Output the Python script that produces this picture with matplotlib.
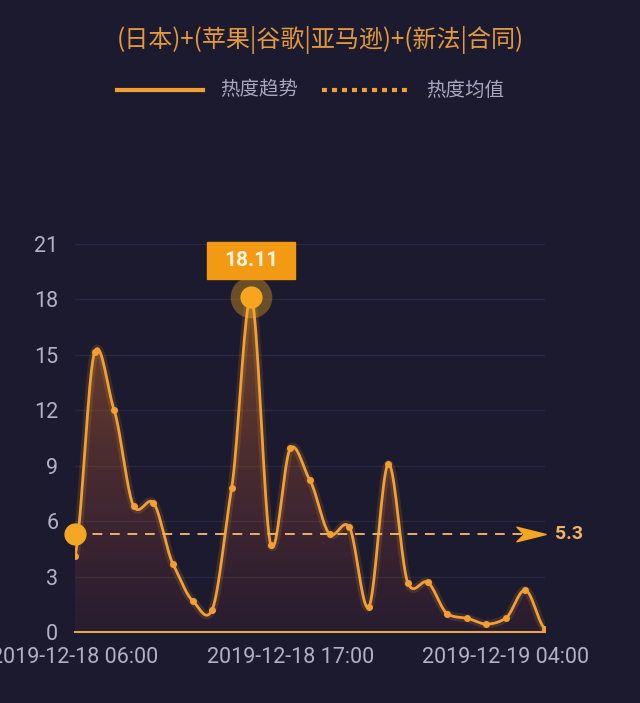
import numpy as np
import matplotlib.pyplot as plt
from matplotlib.lines import Line2D
from matplotlib.patches import Rectangle
from matplotlib.path import Path

plt.rcParams['font.family'] = ['Noto Sans CJK SC', 'DejaVu Sans']

# 数据: 2019-12-18 06:00 起, 每小时一个点
hours = ['2019-12-18 %02d:00' % h for h in range(6, 24)] + \
        ['2019-12-19 %02d:00' % h for h in range(0, 7)]
values = [4.1, 15.15, 12.0, 6.8, 7.0, 3.7, 1.7, 1.2, 7.8, 18.11, 4.7, 9.95, 8.2,
          5.3, 5.7, 1.35, 9.1, 2.65, 2.7, 1.0, 0.75, 0.43, 0.75, 2.27, 0.17]
tick_idx = [0, 11, 22]
title = '(日本)+(苹果|谷歌|亚马逊)+(新法|合同)'
legend_labels = ['热度趋势', '热度均值']

bg = '#1c1a2e'
orange = '#f2a033'
grey = '#b4b1c6'

x = np.arange(len(values))
y = np.array(values)
mean = round(y.mean(), 1)
peak = int(np.argmax(y))


def smooth(xs, ys, n=20):
    # Catmull-Rom 平滑曲线
    px = np.concatenate([[xs[0]], xs, [xs[-1]]])
    py = np.concatenate([[ys[0]], ys, [ys[-1]]])
    ox, oy = [], []
    t = np.linspace(0, 1, n, endpoint=False)
    for i in range(1, len(px) - 2):
        p0, p1, p2, p3 = py[i - 1], py[i], py[i + 1], py[i + 2]
        m1 = (p2 - p0) / 2 * 0.75
        m2 = (p3 - p1) / 2 * 0.75
        h00 = 2 * t**3 - 3 * t**2 + 1
        h10 = t**3 - 2 * t**2 + t
        h01 = -2 * t**3 + 3 * t**2
        h11 = t**3 - t**2
        oy.extend(h00 * p1 + h10 * m1 + h01 * p2 + h11 * m2)
        ox.extend(px[i] + t * (px[i + 1] - px[i]))
    ox.append(xs[-1])
    oy.append(ys[-1])
    return np.array(ox), np.array(oy)


sx, sy = smooth(x, y)

fig = plt.figure(figsize=(6.4, 7.03), dpi=100, facecolor=bg)
ax = fig.add_axes([75 / 640, 1 - 632 / 703, 470 / 640, 388 / 703], facecolor=bg)
ax.set_xlim(0, 24)
ax.set_ylim(0, 21)

# 渐变填充
poly = ax.fill_between(sx, sy, 0, color='none', lw=0)
frac = np.linspace(0, 1, 200)[:, None]
grad = np.zeros((200, 1, 4))
grad[..., 0] = 0.75 + 0.2 * frac
grad[..., 1] = 0.25 + 0.3 * frac
grad[..., 2] = 0.3 - 0.2 * frac
grad[..., 3] = 0.08 + 0.35 * frac
img = ax.imshow(grad, extent=[0, 24, 0, 19], origin='lower', aspect='auto', zorder=1)
img.set_clip_path(poly.get_paths()[0], transform=ax.transData)

# 网格
for v in range(3, 22, 3):
    ax.axhline(v, color='#29273d', lw=1, zorder=0)

ax.plot(sx, sy, color=orange, lw=6, alpha=0.15, zorder=2, solid_capstyle='round')
ax.plot(sx, sy, color=orange, lw=2, zorder=3)
ax.plot(x, y, 'o', color=orange, ms=4, zorder=4)

# 均值线
ax.plot([0, 23.0], [mean, mean], color='#e9b06c', lw=1.4, ls=(0, (5, 4)), zorder=3)
arrow = Path([(-1, 0.5), (1, 0), (-1, -0.5), (-0.5, 0), (-1, 0.5)],
             [Path.MOVETO, Path.LINETO, Path.LINETO, Path.LINETO, Path.CLOSEPOLY])
ax.plot([23.3], [mean], marker=arrow, ms=21, color='#f5a623', clip_on=False, zorder=4)
ax.plot([0], [mean], 'o', ms=15, color='#f5a623', clip_on=False, zorder=5)
ax.text(24.5, mean, str(mean), color='#f2b266', fontsize=14, fontweight='bold',
        family='Roboto', va='center', ha='left', clip_on=False)

# 峰值标记
ax.plot([peak], [y[peak]], 'o', ms=30, color='#f7b020', alpha=0.35, zorder=5, mec='none')
ax.plot([peak], [y[peak]], 'o', ms=16, color='#f7a51c', zorder=6, mec='none')
ax.add_patch(Rectangle((peak - 2.25, y[peak] + 1.0), 4.5, 2.0, color='#f39a14',
                       clip_on=False, zorder=6))
ax.text(peak, y[peak] + 2.0, '%.2f' % y[peak], color='#fff3dd', fontsize=15,
        fontweight='bold', family='Roboto', ha='center', va='center', zorder=7)

# 坐标轴
for s in ['top', 'right', 'left']:
    ax.spines[s].set_visible(False)
ax.spines['bottom'].set_color('#e4a44e')
ax.spines['bottom'].set_linewidth(1.5)
ax.set_yticks(range(0, 22, 3))
ax.set_xticks(tick_idx)
ax.set_xticklabels([hours[i] for i in tick_idx])
ax.tick_params(length=0, colors=grey, labelsize=15.5)
ax.tick_params(axis='y', pad=12)
ax.tick_params(axis='x', pad=11)
for lab in ax.get_xticklabels() + ax.get_yticklabels():
    lab.set_family('Roboto')

# 标题与图例
fig.text(0.5, 1 - 40 / 703, title, color='#e39a3e', fontsize=17.3, ha='center', va='center')
ly = 1 - 90 / 703
fig.add_artist(Line2D([117 / 640, 203 / 640], [ly, ly], color=orange, lw=3))
fig.text(220 / 640, ly, legend_labels[0], color='#a9a6bd', fontsize=14, va='center')
fig.add_artist(Line2D([322 / 640, 410 / 640], [ly, ly], color=orange, lw=3,
                      ls=(0, (1.2, 1.2))))
fig.text(426 / 640, ly, legend_labels[1], color='#a9a6bd', fontsize=14, va='center')

fig.savefig('out.png', dpi=100, facecolor=bg)
